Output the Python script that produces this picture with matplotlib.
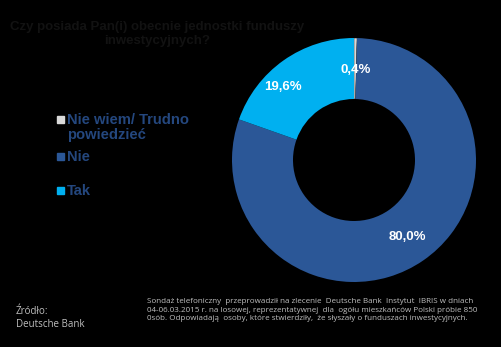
import matplotlib.pyplot as plt
from matplotlib.patches import Rectangle

# dane
kategorie = ["Nie wiem/ Trudno\npowiedzieć", "Nie", "Tak"]
wartosci = [0.4, 80.0, 19.6]
etykiety = ["0,4%", "80,0%", "19,6%"]
kolory = ["#D9D9D9", "#2B5797", "#00B0F0"]

tytul = "Czy posiada Pan(i) obecnie jednostki funduszy\ninwestycyjnych?"
zrodlo = "Źródło:\nDeutsche Bank"
notka = ("Sondaż telefoniczny  przeprowadził na zlecenie  Deutsche Bank  Instytut  IBRIS w dniach\n"
         "04-06.03.2015 r. na losowej, reprezentatywnej  dla  ogółu mieszkańców Polski próbie 850\n"
         "0sób. Odpowiadają  osoby, które stwierdziły,  że słyszały o funduszach inwestycyjnych.")

plt.rcParams['font.family'] = ['Liberation Sans', 'DejaVu Sans']

fig = plt.figure(figsize=(5.01, 3.47), dpi=100, facecolor="black")
W, H = 501, 347

# donut: srodek ok. (354,160), promien ~122 px
r = 122
ax = fig.add_axes([(354 - r) / W, 1 - (160 + r) / H, 2 * r / W, 2 * r / H])
ax.set_facecolor("black")
klin, _ = ax.pie(wartosci, colors=kolory, startangle=90, counterclock=False,
                 radius=1.0, wedgeprops=dict(width=0.5, edgecolor="none"))
klin[0].set_edgecolor("black")
klin[0].set_linewidth(0.3)
ax.set_xlim(-1, 1)
ax.set_ylim(-1, 1)
ax.set_aspect("equal")
ax.axis("off")

# pozycje etykiet w pikselach
poz = [(356, 70), (407, 237), (283, 87)]
for (px, py), txt in zip(poz, etykiety):
    fig.text(px / W, 1 - py / H, txt, color="white", fontsize=9.5, fontweight="bold",
             ha="center", va="center")

# tytul (prawie czarny)
fig.text(157 / W, 1 - 34 / H, tytul, color="#121212", fontsize=9.5, fontweight="bold",
         ha="center", va="center", linespacing=1.3)

# legenda
leg_y = [120, 157, 191]
for y, k, c in zip(leg_y, kategorie, kolory):
    fig.patches.append(Rectangle((57 / W, 1 - (y + 3) / H), 7 / W, 7 / H,
                                 color=c, transform=fig.transFigure, figure=fig))
    fig.text(67 / W, 1 - (y - 7) / H, k, color="#24477E", fontsize=10.6,
             fontweight="bold", ha="left", va="top", linespacing=1.05)

# stopka
fig.text(16 / W, 1 - 306 / H, zrodlo, color="#BFBFBF", fontsize=7,
         ha="left", va="top", family=["Open Sans", "DejaVu Sans"], linespacing=1.25)
fig.text(147 / W, 1 - 298 / H, notka, color="#BFBFBF", fontsize=5.8,
         ha="left", va="top", family=["Open Sans", "DejaVu Sans"], linespacing=1.35)

fig.savefig("out.png", dpi=100, facecolor="black")
